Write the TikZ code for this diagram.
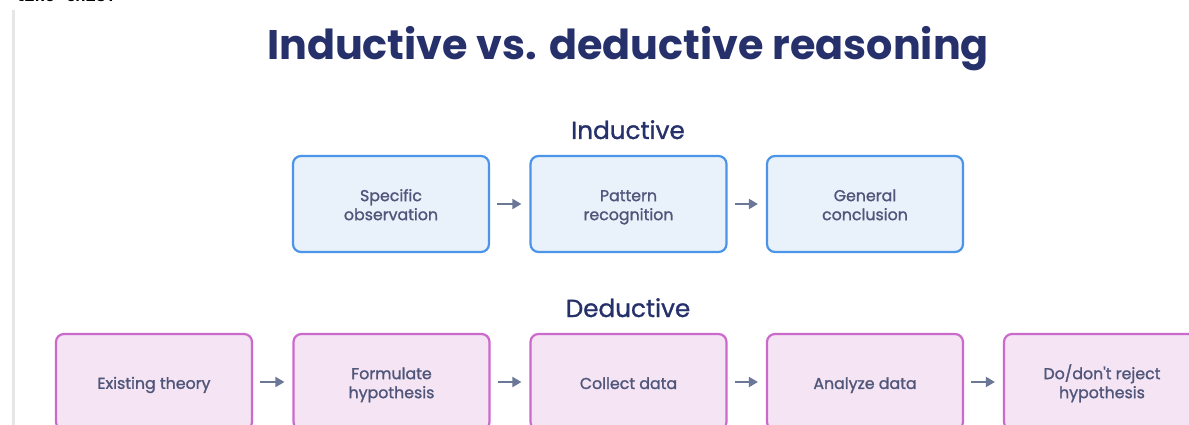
\documentclass[tikz,border=0pt]{standalone}
\usepackage{fontspec}
\setmainfont{Poppins}
\newfontfamily\monofam{Liberation Mono}
\newfontfamily\medfam[FakeBold=1.3]{Poppins}
\newfontfamily\secfam[FakeBold=1.1]{Poppins}
\usetikzlibrary{arrows.meta}
\definecolor{navy}{HTML}{26306B}
\definecolor{boxtext}{HTML}{50567A}
\definecolor{iborder}{HTML}{4B94E8}
\definecolor{ifill}{HTML}{E9F1FB}
\definecolor{dborder}{HTML}{CC6ACC}
\definecolor{dfill}{HTML}{F4E4F4}
\definecolor{arrowc}{HTML}{6A7797}
\definecolor{edge}{HTML}{E6E6E6}
\newcommand\twolines[2]{\begin{tabular}{@{}c@{}}\rule{0pt}{19pt}#1\\#2\end{tabular}}
\tikzset{
  basebox/.style={rounded corners=8pt, line width=2.2pt, minimum width=196pt,
    minimum height=96pt, text=boxtext,
    font=\medfam\fontsize{15.8}{19}\selectfont},
  onel/.style={execute at begin node={\rule[-4pt]{0pt}{22pt}}},
  ibox/.style={basebox, draw=iborder, fill=ifill},
  dbox/.style={basebox, draw=dborder, fill=dfill},
  arr/.style={draw=arrowc, line width=2pt, shorten <=7pt, shorten >=8pt,
    -{Triangle[length=9pt,width=10pt]}},
  section/.style={anchor=base, text=navy, font=\secfam\fontsize{24.7}{29}\selectfont},
}
\begin{document}
\begin{tikzpicture}[x=1pt,y=-1pt]
\useasboundingbox (0,0) rectangle (1189,425);
\clip (0,0) rectangle (1189,425);
\fill[white] (0,0) rectangle (1189,425);
\node[anchor=base west, inner sep=0pt, font=\monofam\bfseries\fontsize{17}{20}\selectfont] (cut) at (14,2) {like this:};
\draw[edge, line width=3pt] (13,10) -- (13,430);
\node[anchor=base, text=navy, font=\bfseries\fontsize{41.3}{48}\selectfont] (title) at (628,60) {Inductive vs. deductive reasoning};
\node[section] (ind) at (628,139) {Inductive};
\node[section] (ded) at (628,317) {Deductive};
\node[ibox] (i1) at (391,204) {\twolines{Specific}{observation}};
\node[ibox] (i2) at (628.5,204) {\twolines{Pattern}{recognition}};
\node[ibox] (i3) at (865,204) {\twolines{General}{conclusion}};
\draw[arr] (i1.east) -- (i2.west);
\draw[arr] (i2.east) -- (i3.west);
\node[dbox, onel] (d1) at (154,382) {Existing theory};
\node[dbox] (d2) at (391.5,382) {\twolines{Formulate}{hypothesis}};
\node[dbox, onel] (d3) at (628.5,382) {Collect data};
\node[dbox, onel] (d4) at (865,382) {Analyze data};
\node[dbox] (d5) at (1102,382) {\twolines{Do/don't reject}{hypothesis}};
\draw[arr] (d1.east) -- (d2.west);
\draw[arr] (d2.east) -- (d3.west);
\draw[arr] (d3.east) -- (d4.west);
\draw[arr] (d4.east) -- (d5.west);
\end{tikzpicture}
\end{document}
